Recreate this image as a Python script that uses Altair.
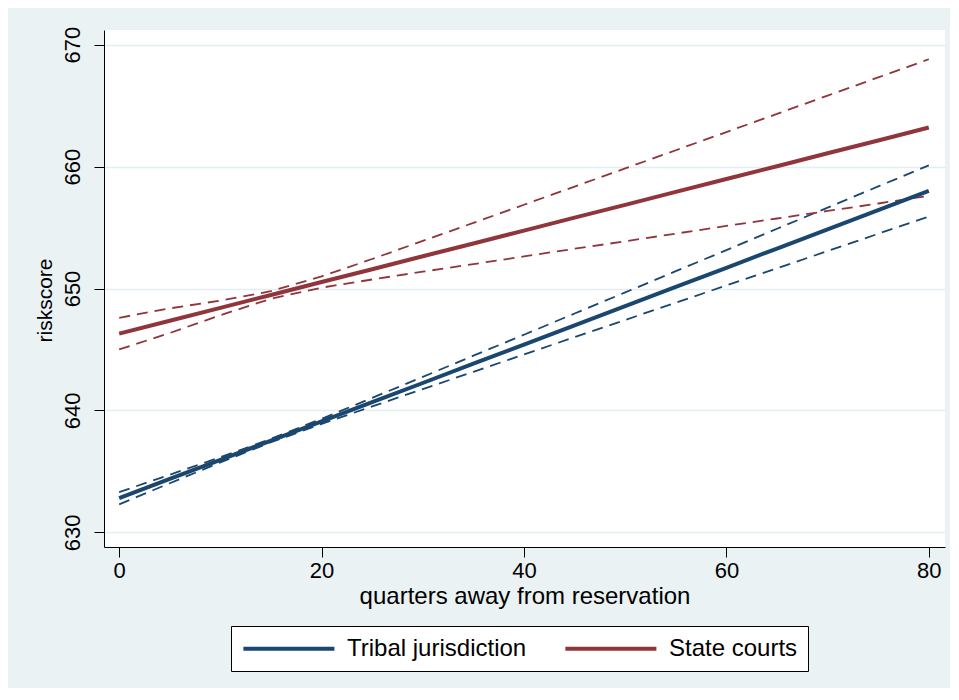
import altair as alt
import pandas as pd

# ---- data ----
quarters = [0, 5, 10, 15, 20, 25, 30, 35, 40, 45, 50, 55, 60, 65, 70, 75, 80]

tribal_fit = [632.8, 634.38, 635.95, 637.53, 639.1, 640.68, 642.25, 643.83, 645.4,
              646.98, 648.55, 650.13, 651.7, 653.28, 654.85, 656.43, 658.0]
tribal_upper = [633.3, 634.73, 636.16, 637.67, 639.31, 641.03, 642.75, 644.49, 646.21,
                647.95, 649.68, 651.42, 653.15, 654.9, 656.63, 658.37, 660.1]
tribal_lower = [632.3, 634.03, 635.74, 637.39, 638.89, 640.33, 641.75, 643.17, 644.59,
                646.01, 647.42, 648.84, 650.25, 651.66, 653.07, 654.49, 655.9]

state_fit = [646.3, 647.36, 648.41, 649.47, 650.53, 651.58, 652.64, 653.69, 654.75,
             655.81, 656.86, 657.92, 658.98, 660.03, 661.09, 662.14, 663.2]
state_upper = [647.6, 648.37, 649.01, 649.78, 650.99, 652.42, 653.9, 655.38, 656.87,
               658.36, 659.85, 661.34, 662.83, 664.32, 665.82, 667.31, 668.8]
state_lower = [645.0, 646.35, 647.81, 649.16, 650.07, 650.74, 651.38, 652.0, 652.63,
               653.26, 653.87, 654.5, 655.13, 655.74, 656.36, 656.97, 657.6]

groups = ["Tribal jurisdiction", "State courts"]
colors = ["#1a476f", "#90353b"]

x_ticks = [0, 20, 40, 60, 80]
y_ticks = [630, 640, 650, 660, 670]

rows = []
for g, fits, ups, los in [
    (groups[0], tribal_fit, tribal_upper, tribal_lower),
    (groups[1], state_fit, state_upper, state_lower),
]:
    for q, f, u, l in zip(quarters, fits, ups, los):
        rows.append({"q": q, "group": g, "fit": f, "upper": u, "lower": l})
df = pd.DataFrame(rows)

FONT = "Liberation Sans"
BG = "#eaf2f3"

x_enc = alt.X(
    "q:Q",
    scale=alt.Scale(domain=[-1.5, 81.6], nice=False, zero=False),
    axis=alt.Axis(
        values=x_ticks, title="quarters away from reservation", grid=False,
        tickSize=10, tickColor="black", domainColor="black", domainWidth=1,
        labelFontSize=22, labelPadding=3, labelColor="black", labelFont=FONT,
        titleFontSize=24, titleFontWeight="normal", titleColor="black", titleFont=FONT,
        titleY=56, titleBaseline="alphabetic",
    ),
)

y_scale = alt.Scale(domain=[628.8, 671.2], nice=False, zero=False)
y_axis = alt.Axis(
    values=y_ticks, title="riskscore", grid=True, gridColor="#e4edf1", gridWidth=1.5,
    tickSize=10, tickColor="black", domainColor="black", domainWidth=1,
    labelAngle=-90, labelAlign="center", labelBaseline="bottom", labelPadding=10,
    labelFontSize=22, labelColor="black", labelFont=FONT,
    titleFontSize=21, titleFontWeight="normal", titleColor="black", titleFont=FONT,
    titleX=-59, titleY=270, titleBaseline="middle",
)

color_scale = alt.Scale(domain=groups, range=colors)

base = alt.Chart(df)

ci = base.transform_fold(["upper", "lower"], as_=["bound", "value"]).mark_line(
    strokeWidth=1.8, strokeDash=[11, 7]
).encode(
    x=x_enc,
    y=alt.Y("value:Q", scale=y_scale, axis=y_axis),
    color=alt.Color("group:N", scale=color_scale, legend=None),
    detail="bound:N",
)

fit = base.mark_line(strokeWidth=4).encode(
    x=x_enc,
    y=alt.Y("fit:Q", scale=y_scale, axis=y_axis),
    color=alt.Color(
        "group:N", scale=color_scale,
        legend=alt.Legend(
            title=None, orient="none", legendX=127, legendY=596,
            direction="horizontal", symbolType="M-1,0L8,0", symbolSize=409,
            symbolStrokeWidth=4, labelFontSize=24, labelFont=FONT, labelColor="black",
            labelOffset=81, columnPadding=30, padding=10, strokeColor="black",
            fillColor="white", labelLimit=400,
        ),
    ),
)

chart = alt.layer(ci, fit).resolve_scale(color="independent").properties(
    width=841, height=517,
    autosize=alt.AutoSizeParams(type="none"),
    padding={"left": 96, "top": 22, "right": 5, "bottom": 141},
    background=BG,
).configure_view(fill="white", stroke=None)

chart.save("out.html", embed_options={"renderer": "svg", "actions": False})
